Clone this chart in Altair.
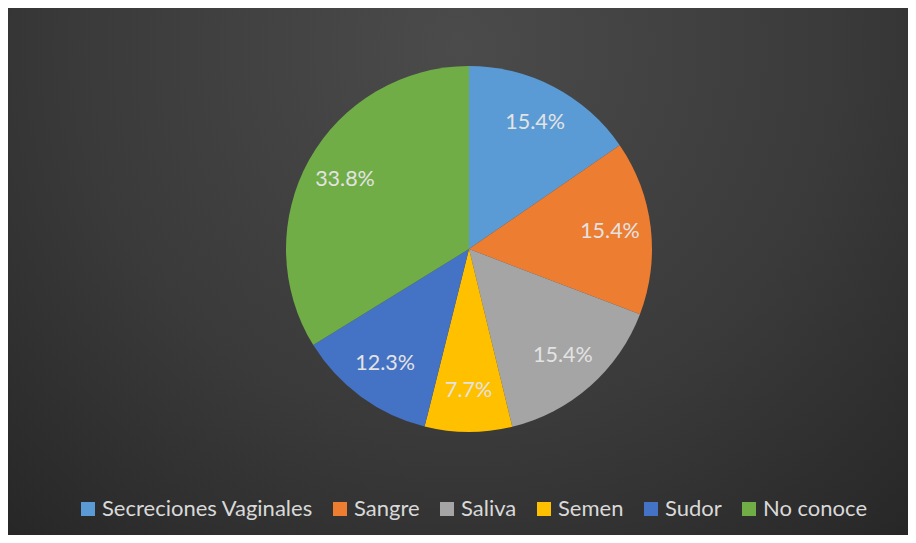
import altair as alt
import pandas as pd

categories = ["Secreciones Vaginales", "Sangre", "Saliva", "Semen", "Sudor", "No conoce"]
values = [15.4, 15.4, 15.4, 7.7, 12.3, 33.8]
labels = ["15.4%", "15.4%", "15.4%", "7.7%", "12.3%", "33.8%"]
colors = ["#5B9BD5", "#ED7D31", "#A5A5A5", "#FFC000", "#4472C4", "#70AD47"]

df = pd.DataFrame({
    "cat": categories,
    "val": values,
    "lab": labels,
    "idx": list(range(len(categories))),
})

W, H = 900, 527
CX, CY, R = 461, 241, 183

bg = alt.Chart(pd.DataFrame({"a": [0]})).mark_rect(
    color=alt.Gradient(
        gradient="radial",
        x1=0.5, y1=0.25, r1=0.0,
        x2=0.5, y2=0.25, r2=0.85,
        stops=[
            alt.GradientStop(color="#4b4b4b", offset=0),
            alt.GradientStop(color="#3a3a3a", offset=0.5),
            alt.GradientStop(color="#202020", offset=1),
        ],
    )
).encode(
    x=alt.value(0), x2=alt.value(W), y=alt.value(0), y2=alt.value(H)
)

base = alt.Chart(df).encode(
    theta=alt.Theta("val:Q", stack=True),
    order=alt.Order("idx:Q"),
)

pie = base.mark_arc(radius=R, stroke=None).encode(
    x=alt.value(CX),
    y=alt.value(CY),
    color=alt.Color(
        "cat:N",
        scale=alt.Scale(domain=categories, range=colors),
        sort=categories,
        legend=alt.Legend(
            title=None,
            orient="none",
            direction="horizontal",
            legendX=69,
            legendY=490,
            padding=0,
            symbolType="square",
            symbolSize=196,
            symbolStrokeWidth=0,
            symbolOpacity=1,
            labelFont="Lato",
            labelFontSize=22,
            labelColor="#d9d9d9",
            labelOffset=3,
            columnPadding=16,
            labelLimit=400,
        ),
    ),
)

text = base.mark_text(
    radius=142, font="Lato", fontSize=21.5, color="#e3e3e3"
).encode(
    x=alt.value(CX),
    y=alt.value(CY),
    text="lab:N",
)

chart = alt.layer(bg, pie, text).properties(
    width=W, height=H, padding=0, autosize="none"
).configure_view(stroke=None).configure(background="#ffffff")

chart.save("out.html", embed_options={"renderer": "svg", "actions": False})
